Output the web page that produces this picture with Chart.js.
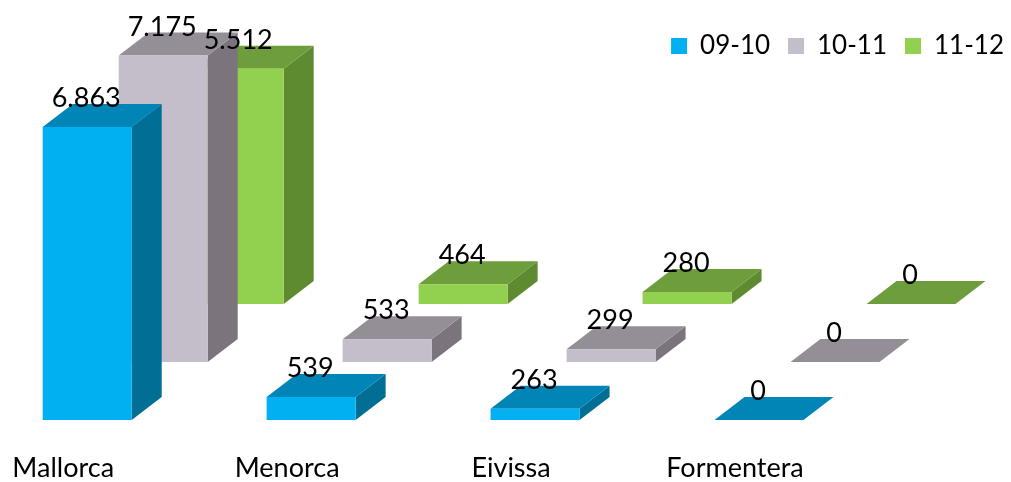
<!DOCTYPE html>
<html><head><meta charset="utf-8">
<script src="https://cdn.jsdelivr.net/npm/chart.js@4/dist/chart.umd.min.js"></script>
<style>html,body{margin:0;padding:0;background:#fff}#wrap{width:1011px;height:482px;position:relative}</style>
</head><body><div id="wrap"><canvas id="c"></canvas></div>
<script>
const categories = ['Mallorca', 'Menorca', 'Eivissa', 'Formentera'];
const seriesNames = ['09-10', '10-11', '11-12'];
const s0910 = [6863, 539, 263, 0];
const s1011 = [7175, 533, 299, 0];
const s1112 = [5512, 464, 280, 0];

const frontColors = ['#00B0F0', '#C4BDCA', '#92D050'];
const topColors = ['#0085B6', '#948E97', '#6E9D3C'];
const sideColors = ['#006E95', '#7B747C', '#5F8B30'];

const DEPTH_X = 30, DEPTH_Y = 23;      // box depth
const SHIFT_X = 76, SHIFT_Y = -58;     // per-series row shift
const FONT = 'Lato';

function fmt(v) { return String(v).replace(/\B(?=(\d{3})+(?!\d))/g, '.'); }

const box3d = {
  id: 'box3d',
  beforeDatasetsDraw(chart) {
    const ctx = chart.ctx;
    const labels = [];
    const poly = (pts) => { ctx.beginPath(); ctx.moveTo(pts[0][0], pts[0][1]); for (let k = 1; k < pts.length; k++) ctx.lineTo(pts[k][0], pts[k][1]); ctx.closePath(); ctx.fill(); };
    ctx.save();
    for (let d = chart.data.datasets.length - 1; d >= 0; d--) {
      const meta = chart.getDatasetMeta(d);
      const sx = SHIFT_X * d, sy = SHIFT_Y * d;
      meta.data.forEach((bar, i) => {
        const p = bar.getProps(['x', 'y', 'base', 'width'], true);
        const x0 = p.x - p.width / 2 + sx, x1 = p.x + p.width / 2 + sx;
        const yt = p.y + sy, yb = p.base + sy;
        ctx.fillStyle = sideColors[d];
        poly([[x1, yt], [x1 + DEPTH_X, yt - DEPTH_Y], [x1 + DEPTH_X, yb - DEPTH_Y], [x1, yb]]);
        ctx.fillStyle = topColors[d];
        poly([[x0, yt], [x0 + DEPTH_X, yt - DEPTH_Y], [x1 + DEPTH_X, yt - DEPTH_Y], [x1, yt]]);
        ctx.fillStyle = frontColors[d];
        ctx.fillRect(x0, yt, x1 - x0, yb - yt);
        labels.push({ x: (x0 + x1) / 2 - 1, y: yt - 20, text: fmt(chart.data.datasets[d].data[i]) });
      });
    }
    ctx.font = '27px ' + FONT;
    ctx.fillStyle = '#000';
    ctx.textAlign = 'center';
    ctx.textBaseline = 'alphabetic';
    labels.forEach(l => ctx.fillText(l.text, l.x, l.y));
    ctx.restore();
    return false;
  }
};

const seriesData = [s0910, s1011, s1112];
new Chart(document.getElementById('c'), {
  type: 'bar',
  data: {
    labels: categories,
    datasets: seriesNames.map((n, i) => ({
      label: n, data: seriesData[i], backgroundColor: frontColors[i], borderWidth: 0,
      grouped: false, barThickness: 89
    }))
  },
  options: {
    responsive: true, maintainAspectRatio: false, animation: false,
    layout: { padding: { top: 15, left: 87.2, right: -11, bottom: -34 } },
    plugins: {
      legend: {
        position: 'top', align: 'end',
        labels: { boxWidth: 16, boxHeight: 16, padding: 18, color: '#000', font: { family: FONT, size: 26 } }
      },
      tooltip: { enabled: false }
    },
    scales: {
      x: {
        type: 'category', offset: false,
        grid: { display: false, drawTicks: false }, border: { display: false },
        ticks: { color: '#000', font: { family: FONT, size: 27 }, padding: 31.8, labelOffset: -24, minRotation: 0, maxRotation: 0, autoSkip: false }
      },
      y: {
        position: 'right', min: 0, max: 8220,
        grid: { display: false, drawTicks: false }, border: { display: false },
        ticks: { display: false },
        afterFit: (s) => { s.width = 263; }
      }
    }
  },
  plugins: [box3d]
});
</script>
</body></html>
